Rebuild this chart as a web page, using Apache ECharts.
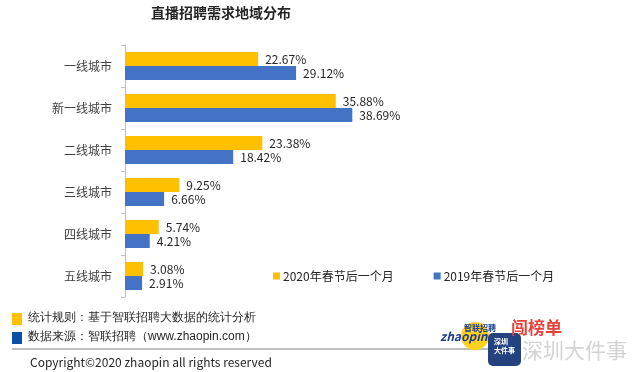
<!DOCTYPE html>
<html><head><meta charset="utf-8">
<script src="https://cdn.jsdelivr.net/npm/echarts@6/dist/echarts.min.js"></script>
<style>html,body{margin:0;padding:0;background:#fff}#c{width:640px;height:372px}</style>
</head><body><div id="c"></div>
<script>
const categories = ['一线城市','新一线城市','二线城市','三线城市','四线城市','五线城市'];
const series2020 = [22.67, 35.88, 23.38, 9.25, 5.74, 3.08];
const series2019 = [29.12, 38.69, 18.42, 6.66, 4.21, 2.91];
const seriesNames = ['2020年春节后一个月','2019年春节后一个月'];
const titleText = '直播招聘需求地域分布';
const noteLines = ['统计规则：基于智联招聘大数据的统计分析','数据来源：智联招聘（www.zhaopin.com）'];
const copyrightText = 'Copyright©2020 zhaopin all rights reserved';

const FONT = '"Noto Sans CJK SC", sans-serif';
const chart = echarts.init(document.getElementById('c'), null, {renderer:'canvas'});
const lbl = {show:true, position:'right', distance:7, formatter:'{c}%', color:'#262626', fontSize:12, fontFamily:FONT};
chart.setOption({
  animation:false,
  textStyle:{fontFamily:FONT},
  title:{text:titleText, left:216, top:1, textAlign:'center',
    textStyle:{fontSize:14, fontWeight:'bold', color:'#262626', fontFamily:FONT}},
  legend:{left:268, top:265, itemWidth:7, itemHeight:7, itemGap:40, icon:'rect',
    textStyle:{fontSize:12, color:'#262626', fontFamily:FONT, padding:[0,0,0,-2]},
    data:seriesNames},
  grid:{left:125, top:45, width:235, height:252},
  xAxis:{type:'value', min:0, max:40, show:false},
  yAxis:{type:'category', data:categories, inverse:true,
    axisLine:{show:true, lineStyle:{color:'#bfbfbf'}},
    axisTick:{show:true, length:4, lineStyle:{color:'#bfbfbf'}},
    axisLabel:{fontSize:12, color:'#404040', margin:13, fontFamily:FONT}},
  series:[
    {name:seriesNames[0], type:'bar', data:series2020, barWidth:14, barGap:'0%',
      itemStyle:{color:'#FFC000'}, label:lbl},
    {name:seriesNames[1], type:'bar', data:series2019, barWidth:14, barGap:'0%',
      itemStyle:{color:'#4472C4'}, label:lbl}
  ],
  graphic:[
    {type:'rect', left:12, top:313, shape:{width:10, height:12}, style:{fill:'#FFC000'}},
    {type:'rect', left:12, top:332, shape:{width:10, height:12}, style:{fill:'#0B50A8'}},
    {type:'text', left:28, top:312, style:{text:noteLines[0], fontSize:12, fill:'#262626', font:'12px '+FONT}},
    {type:'text', left:28, top:331, style:{text:noteLines[1], fontSize:12, fill:'#262626', font:'12px '+FONT}},
    {type:'line', shape:{x1:12, y1:349, x2:490, y2:349}, style:{stroke:'#7f7f7f', lineWidth:1}},
    {type:'text', left:30, top:356, style:{text:copyrightText, font:'12px '+FONT, fill:'#262626'}},
    {type:'circle', shape:{cx:475, cy:336, r:14}, style:{fill:'#FFD21F'}},
    {type:'text', left:440, top:330, style:{text:'zhaopin', font:'italic bold 12px '+FONT, fill:'#1B3E8F'}},
    {type:'text', left:464, top:324, style:{text:'智联招聘', font:'bold 8px '+FONT, fill:'#1B3E8F'}},
    {type:'rect', shape:{x:488, y:333, width:33, height:33, r:5}, style:{fill:'#23427E'}},
    {type:'text', left:494, top:337, style:{text:'深圳\n大件事', font:'bold 7px '+FONT, fill:'#fff', lineHeight:9, align:'center'}},
    {type:'text', left:511, top:319, style:{text:'闯榜单', font:'bold 17px '+FONT, fill:'#E8413A'}},
    {type:'text', left:522, top:340, style:{text:'深圳大件事', font:'21px '+FONT, fill:'rgba(200,200,200,0.8)'}}
  ]
});
</script></body></html>
